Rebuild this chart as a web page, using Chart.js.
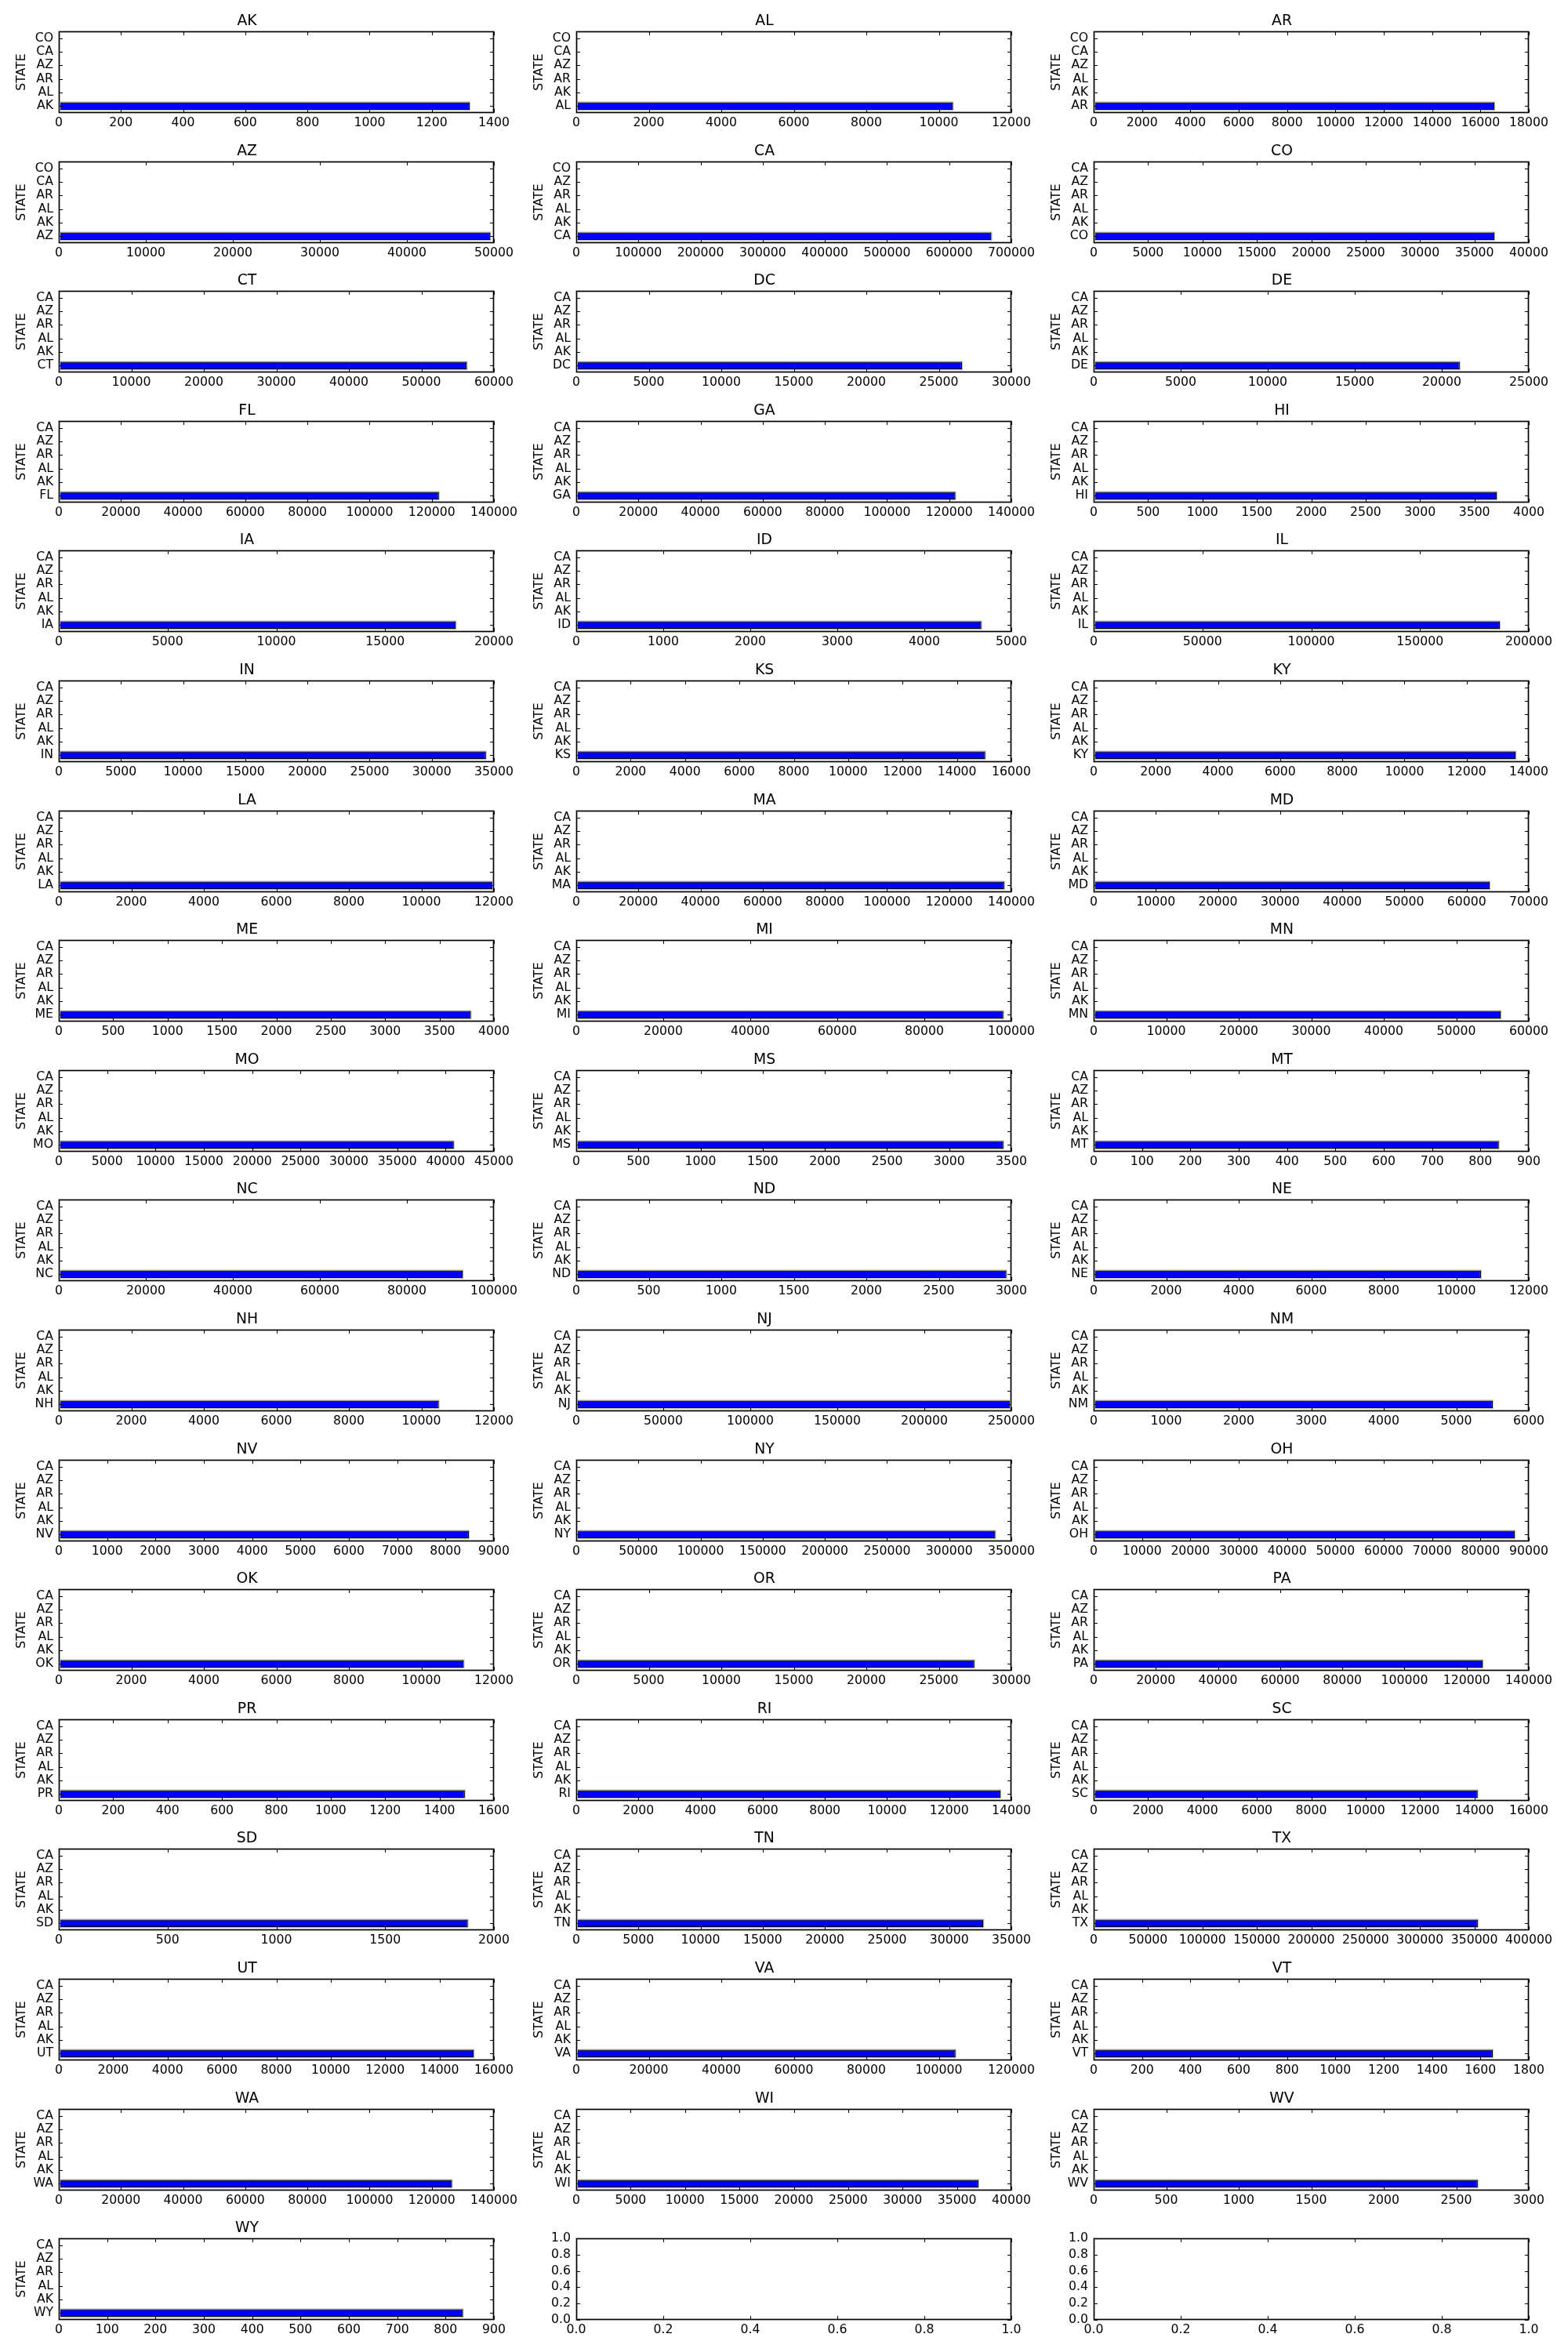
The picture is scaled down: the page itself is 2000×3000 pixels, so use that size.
<!DOCTYPE html>
<html><head><meta charset="utf-8">
<script src="https://cdn.jsdelivr.net/npm/chart.js@4.4.1/dist/chart.umd.min.js"></script>
<style>
html,body{margin:0;padding:0;background:#fff;}
#wrap{position:relative;width:2000px;height:3000px;overflow:hidden;background:#fff;}
canvas{position:absolute;}
</style></head><body><div id="wrap"></div>
<script>
// ---- data ----
const states = ['AK','AL','AR','AZ','CA','CO','CT','DC','DE','FL','GA','HI','IA','ID','IL','IN','KS','KY','LA','MA','MD','ME','MI','MN','MO','MS','MT','NC','ND','NE','NH','NJ','NM','NV','NY','OH','OK','OR','PA','PR','RI','SC','SD','TN','TX','UT','VA','VT','WA','WI','WV','WY'];
const values = [1322,10390,16580,49600,667900,36840,56270,26600,21030,122300,122000,3706,18250,4655,186700,34360,15040,13580,12000,137700,63720,3788,98160,56140,40850,3436,838,92860,2966,10680,10480,249800,5503,8482,337100,87100,11170,27450,125200,1493,13650,14120,1880,32750,353100,15260,104600,1651,126500,36970,2648,836];
const axisMax = [1400,12000,18000,50000,700000,40000,60000,30000,25000,140000,140000,4000,20000,5000,200000,35000,16000,14000,12000,140000,70000,4000,100000,60000,45000,3500,900,100000,3000,12000,12000,250000,6000,9000,350000,90000,12000,30000,140000,1600,14000,16000,2000,35000,400000,16000,120000,1800,140000,40000,3000,900];
const axisStep = [200,2000,2000,10000,100000,5000,10000,5000,5000,20000,20000,500,5000,1000,50000,5000,2000,2000,2000,20000,10000,500,20000,10000,5000,500,100,20000,500,2000,2000,50000,1000,1000,50000,10000,2000,5000,20000,200,2000,2000,500,5000,50000,2000,20000,200,20000,5000,500,100];
const labelPool = ['AK','AL','AR','AZ','CA','CO'];
const yTitle = 'STATE';
const emptyMin = 0, emptyMax = 1, emptyStep = 0.2;

// ---- layout ----
const FONT = "'DejaVu Sans'";
const TICK_SIZE = 15.7, TITLE_SIZE = 18.8;
const COL_LEFT = [75, 735, 1395];
const AREA_W = 555, AREA_H = 104, ROW_PITCH = 165.6;
const PAD_L = 75, PAD_T = 40, PAD_B = 22;
const CW = PAD_L * 2 + AREA_W, CH = PAD_T + AREA_H + PAD_B;

Chart.defaults.font.family = FONT;
Chart.defaults.font.size = TICK_SIZE;
Chart.defaults.color = '#000';

const wrap = document.getElementById('wrap');
function makeCanvas(col, row) {
  const c = document.createElement('canvas');
  c.width = CW; c.height = CH;
  c.style.left = (COL_LEFT[col] - PAD_L) + 'px';
  c.style.top = Math.round(ROW_PITCH * row) + 'px';
  c.style.width = CW + 'px'; c.style.height = CH + 'px';
  wrap.appendChild(c);
  return c;
}

// soft grey halo under bars (like the reference's anti-aliased edges)
const barHalo = {
  id: 'barHalo',
  beforeDatasetsDraw(chart) {
    const meta = chart.getDatasetMeta(0);
    if (!meta || !meta.data) return;
    const ctx = chart.ctx;
    ctx.save();
    ctx.fillStyle = '#c8c8c8';
    meta.data.forEach(el => {
      if (el.skip || el.x == null || isNaN(el.x)) return;
      const p = el.getProps(['x', 'y', 'base', 'height'], true);
      if (p.x === p.base) return;
      ctx.fillRect(p.base, p.y - p.height / 2 - 1, p.x - p.base + 1, p.height + 2);
    });
    ctx.restore();
  }
};

const frameTicks = {
  id: 'frameTicks',
  afterDatasetsDraw(chart) {
    const {ctx, chartArea: a} = chart;
    const x = chart.scales.x, y = chart.scales.y;
    const L = 4.5;
    ctx.save();
    const l = Math.round(a.left) + 0.5, r = Math.round(a.right) - 0.5;
    const t = Math.round(a.top) + 0.5, b = Math.round(a.bottom) - 0.5;
    ctx.strokeStyle = '#c4c4c4'; ctx.lineWidth = 3;
    ctx.strokeRect(l, t, r - l, b - t);
    ctx.strokeStyle = '#000'; ctx.lineWidth = 1.3;
    ctx.strokeRect(l, t, r - l, b - t);
    ctx.lineWidth = 1;
    ctx.beginPath();
    x.ticks.forEach((tk, i) => {
      const px = Math.round(x.getPixelForTick(i)) + 0.5;
      ctx.moveTo(px, b); ctx.lineTo(px, b - L);
      ctx.moveTo(px, t); ctx.lineTo(px, t + L);
    });
    y.ticks.forEach((tk, i) => {
      const py = Math.round(y.getPixelForTick(i)) + 0.5;
      ctx.moveTo(l, py); ctx.lineTo(l + L, py);
      ctx.moveTo(r, py); ctx.lineTo(r - L, py);
    });
    ctx.stroke();
    ctx.restore();
  }
};

const tickFont = {family: FONT, size: TICK_SIZE};

states.forEach((st, i) => {
  const col = i % 3, row = Math.floor(i / 3);
  const others = labelPool.filter(s => s !== st).slice(0, 5);
  const labels = [st].concat(others); // bottom to top
  const data = labels.map((s, k) => k === 0 ? values[i] : null);
  new Chart(makeCanvas(col, row), {
    type: 'bar',
    data: {labels, datasets: [{data, backgroundColor: '#0000ff', borderColor: '#000', borderWidth: 1.3,
      borderSkipped: false, barPercentage: 0.57, categoryPercentage: 1}]},
    options: {
      indexAxis: 'y', responsive: false, animation: false, devicePixelRatio: 1,
      layout: {padding: {left: 0, right: PAD_L, top: 0, bottom: 0}},
      plugins: {
        legend: {display: false}, tooltip: {enabled: false},
        title: {display: true, text: st, color: '#000', font: {family: FONT, size: TITLE_SIZE, weight: 'normal'},
          padding: {top: 15.7, bottom: 40 - 15.7 - TITLE_SIZE * 1.2}}
      },
      scales: {
        x: {type: 'linear', position: 'bottom', min: 0, max: axisMax[i],
          grid: {display: false, drawTicks: false}, border: {display: false},
          ticks: {stepSize: axisStep[i], autoSkip: false, maxRotation: 0, minRotation: 0, padding: 3.7, color: '#000', font: tickFont,
            callback: v => String(v)},
          afterFit: s => { s.height = PAD_B; }},
        y: {type: 'category', reverse: true,
          grid: {display: false, drawTicks: false}, border: {display: false},
          ticks: {padding: 7, color: '#000', font: tickFont, autoSkip: false},
          title: {display: true, text: yTitle, color: '#000', font: tickFont, padding: {top: 18.6, bottom: 0}},
          afterFit: s => { s.width = PAD_L; }}
      }
    },
    plugins: [barHalo, frameTicks]
  });
});

// two empty axes
[1, 2].forEach(col => {
  new Chart(makeCanvas(col, 17), {
    type: 'scatter',
    data: {datasets: [{data: []}]},
    options: {
      responsive: false, animation: false, devicePixelRatio: 1,
      layout: {padding: {left: 0, right: PAD_L, top: PAD_T, bottom: 0}},
      plugins: {legend: {display: false}, tooltip: {enabled: false}},
      scales: {
        x: {type: 'linear', min: emptyMin, max: emptyMax,
          grid: {display: false, drawTicks: false}, border: {display: false},
          ticks: {stepSize: emptyStep, autoSkip: false, maxRotation: 0, padding: 3.7, color: '#000', font: tickFont,
            callback: v => Number(v).toFixed(1)},
          afterFit: s => { s.height = PAD_B; }},
        y: {type: 'linear', min: emptyMin, max: emptyMax,
          grid: {display: false, drawTicks: false}, border: {display: false},
          ticks: {stepSize: emptyStep, autoSkip: false, padding: 7, color: '#000', font: tickFont,
            callback: v => Number(v).toFixed(1)},
          afterFit: s => { s.width = PAD_L; }}
      }
    },
    plugins: [frameTicks]
  });
});
</script>
</body></html>
